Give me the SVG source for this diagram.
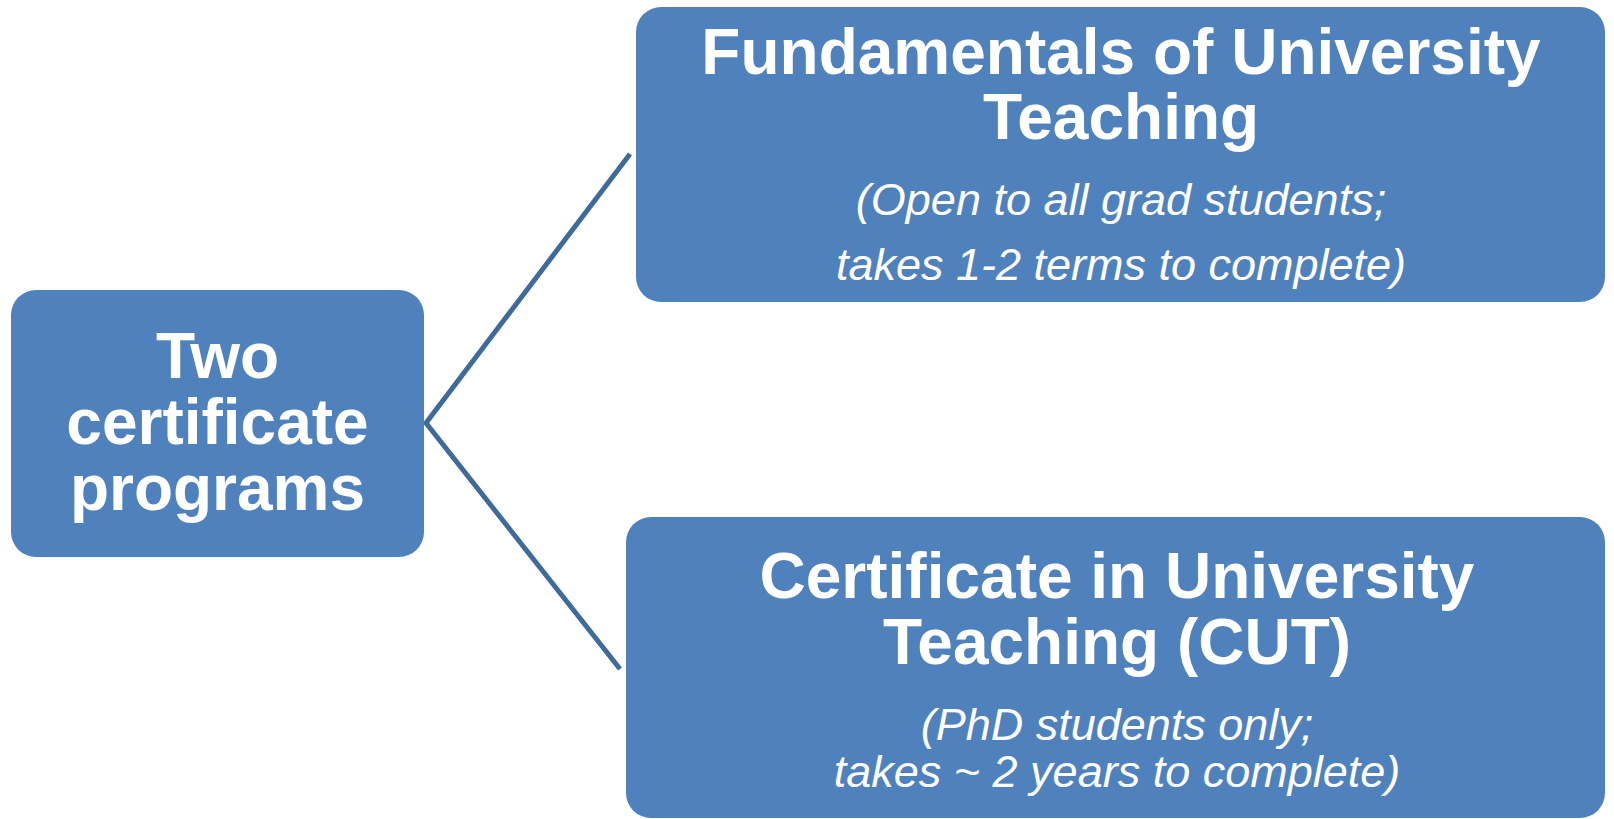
<svg xmlns="http://www.w3.org/2000/svg" width="1614" height="819" viewBox="0 0 1614 819">
<style>
.box{fill:#4F81BD;}
.t{font-family:"Liberation Sans",Arial,sans-serif;fill:#FFFFFF;text-anchor:middle;}
.b{font-weight:bold;font-size:64px;}
.i{font-style:italic;font-size:45px;}
.conn{stroke:#3F6B9C;stroke-width:5;fill:none;}
</style>
<rect width="1614" height="819" fill="#FFFFFF"/>
<g id="connectors">
<path class="conn" d="M630 154 L426 423 L620 669"/>
</g>
<g id="node-root">
<rect class="box" x="11" y="290" width="413" height="267" rx="25"/>
<text class="t b" x="217.5" y="378">Two</text>
<text class="t b" x="217.5" y="444">certificate</text>
<text class="t b" x="217.5" y="510">programs</text>
</g>
<g id="node-fundamentals">
<rect class="box" x="636" y="7" width="969" height="295" rx="25"/>
<text class="t b" x="1121" y="74">Fundamentals of University</text>
<text class="t b" x="1121" y="139">Teaching</text>
<text class="t i" x="1121" y="215">(Open to all grad students;</text>
<text class="t i" x="1121" y="280">takes 1-2 terms to complete)</text>
</g>
<g id="node-cut">
<rect class="box" x="626" y="517" width="979" height="301" rx="25"/>
<text class="t b" x="1117" y="598">Certificate in University</text>
<text class="t b" x="1117" y="664">Teaching (CUT)</text>
<text class="t i" x="1117" y="740">(PhD students only;</text>
<text class="t i" x="1117" y="787">takes ~ 2 years to complete)</text>
</g>
</svg>
